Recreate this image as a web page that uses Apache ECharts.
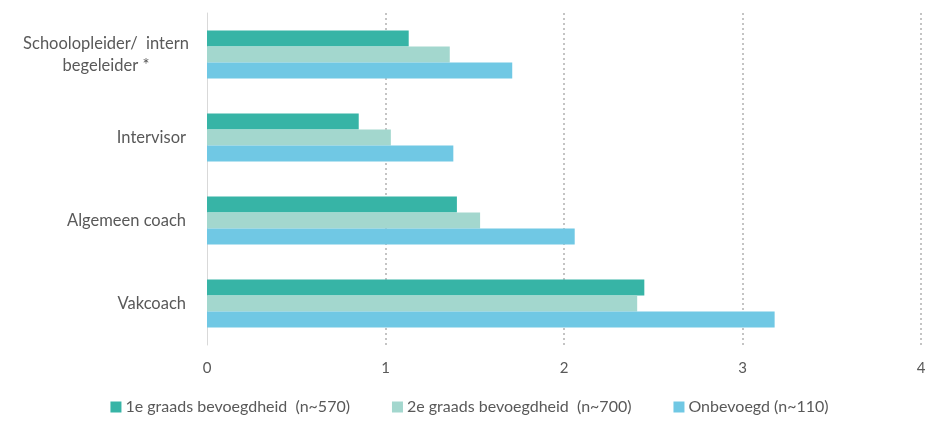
<!DOCTYPE html>
<html><head><meta charset="utf-8">
<script src="https://cdn.jsdelivr.net/npm/echarts@6/dist/echarts.min.js"></script>
<style>html,body{margin:0;padding:0;background:#fff}#c{width:939px;height:422px}</style>
</head><body><div id="c"></div>
<script>
const categories = ["Schoolopleider/  intern\nbegeleider *", "Intervisor", "Algemeen coach", "Vakcoach"];
const seriesNames = ["1e graads bevoegdheid  (n~570)", "2e graads bevoegdheid  (n~700)", "Onbevoegd (n~110)"];
const eersteGraads = [1.13, 0.85, 1.40, 2.45];
const tweedeGraads = [1.36, 1.03, 1.53, 2.41];
const onbevoegd = [1.71, 1.38, 2.06, 3.18];
const xTicks = [0, 1, 2, 3, 4];
const colors = ["#37B4A6", "#A3D7CE", "#70C8E4"];

const font = "Lato, 'Liberation Sans', sans-serif";
const txt = '#595959';
const chart = echarts.init(document.getElementById('c'), null, {renderer: 'canvas'});
const data = [eersteGraads, tweedeGraads, onbevoegd];
chart.setOption({
  animation: false,
  grid: {left: 207, right: 18, top: 13, bottom: 77},
  legend: {
    bottom: 2, left: 'center', itemWidth: 11, itemHeight: 11, itemGap: 42, icon: 'rect',
    textStyle: {color: txt, fontFamily: font, fontSize: 16, padding: [0, 0, 0, -1]}
  },
  xAxis: {
    type: 'value', min: xTicks[0], max: xTicks[xTicks.length-1], interval: 1,
    axisLine: {show: false}, axisTick: {show: false},
    axisLabel: {color: txt, fontFamily: font, fontSize: 15, margin: 16},
    splitLine: {show: true, lineStyle: {type: [2, 3], width: 2,
      color: ['rgba(0,0,0,0)', '#C4C4C4', '#C4C4C4', '#C4C4C4', '#C4C4C4']}}
  },
  yAxis: {
    type: 'category', data: categories, inverse: true,
    axisLine: {show: true, lineStyle: {color: '#D9D9D9', width: 1}},
    axisTick: {show: false},
    axisLabel: {color: txt, fontFamily: font, fontSize: 16.5, margin: 21, align: 'right',
      formatter: v => v.indexOf('\n') >= 0 ? v.split('\n').map(l => '{c|' + l + '}').join('\n') : v,
      rich: {c: {width: 160, align: 'center', fontFamily: font, fontSize: 16.5, color: txt, lineHeight: 22}}
    }
  },
  series: seriesNames.map((n, i) => ({
    name: n, type: 'bar', data: data[i], barGap: '0%', barCategoryGap: '42%',
    itemStyle: {color: colors[i]}
  }))
});
</script></body></html>
